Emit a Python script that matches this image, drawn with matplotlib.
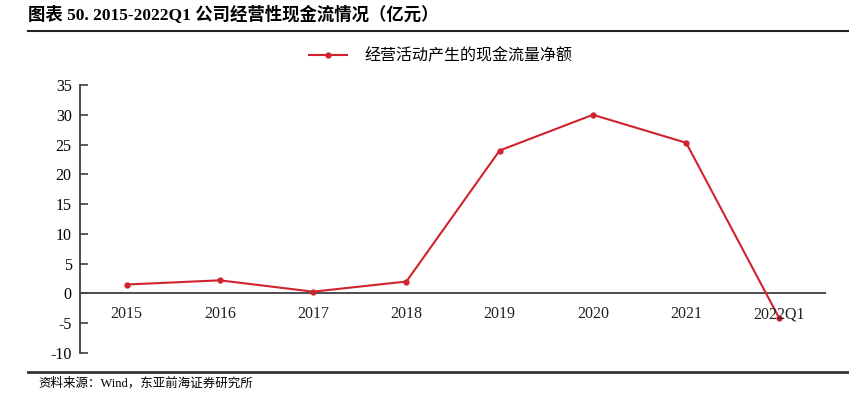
import matplotlib
matplotlib.use('Agg')
import matplotlib.pyplot as plt
from matplotlib.lines import Line2D

categories = ['2015', '2016', '2017', '2018', '2019', '2020', '2021', '2022Q1']
cash_flow = [1.5, 2.2, 0.3, 2.0, 24.0, 30.0, 25.3, -4.2]
y_ticks = [-10, -5, 0, 5, 10, 15, 20, 25, 30, 35]

title = '图表 50. 2015-2022Q1 公司经营性现金流情况（亿元）'
series_name = '经营活动产生的现金流量净额'
source = '资料来源：Wind，东亚前海证券研究所'

cjk = ['Noto Sans CJK SC', 'DejaVu Sans']
serif = ['Liberation Serif', 'DejaVu Serif']
mixed = ['Liberation Serif', 'Noto Sans CJK SC', 'DejaVu Sans']
red = '#d0232e'
dark = '#404040'


def main():
    fig = plt.figure(figsize=(8.49, 4.0), dpi=100)
    ax = fig.add_axes([80 / 849, 47 / 400, 746 / 849, 268 / 400])

    x = list(range(len(categories)))
    ax.plot(x, cash_flow, color=red, lw=1.5, marker='o', ms=3.5, zorder=3)
    ax.axhline(0, color=dark, lw=1.3, zorder=2)

    ax.set_xlim(-0.5, len(categories) - 0.5)
    ax.set_ylim(-10, 35)
    ax.set_yticks(y_ticks)
    ax.set_yticklabels([str(v) for v in y_ticks], fontfamily=serif, fontsize=11.5)
    ax.tick_params(axis='y', direction='in', length=6, width=1.2, color=dark, pad=6)
    ax.set_xticks([])
    for s in ['top', 'right', 'bottom']:
        ax.spines[s].set_visible(False)
    ax.spines['left'].set_color(dark)
    ax.spines['left'].set_linewidth(1.3)

    # category labels just below the zero line
    for i, c in enumerate(categories):
        ax.text(i, -3.5, c, ha='center', va='center', fontfamily=serif,
                fontsize=11.5, color='#222222')

    # legend
    handle = Line2D([], [], color=red, lw=1.5, marker='o', ms=3.5)
    fig.legend([handle], [series_name], loc='center', bbox_to_anchor=(0.519, 1 - 56 / 400),
               frameon=False, prop={'family': cjk, 'size': 11.5}, handlelength=2.4,
               handletextpad=1.1)

    # title, rules, source
    fig.text(28 / 849, 1 - 15 / 400, title, ha='left', va='center',
             fontfamily=mixed, fontweight='bold', fontsize=12.5)
    fig.add_artist(Line2D([28 / 849, 1.0], [1 - 31 / 400] * 2, color='#222222', lw=1.5))
    fig.add_artist(Line2D([28 / 849, 1.0], [1 - 371.5 / 400] * 2, color='#333333', lw=2))
    fig.text(38 / 849, 1 - 383 / 400, source, ha='left', va='center',
             fontfamily=mixed, fontsize=9)

    fig.savefig('out.png', dpi=100)


if __name__ == '__main__':
    main()
